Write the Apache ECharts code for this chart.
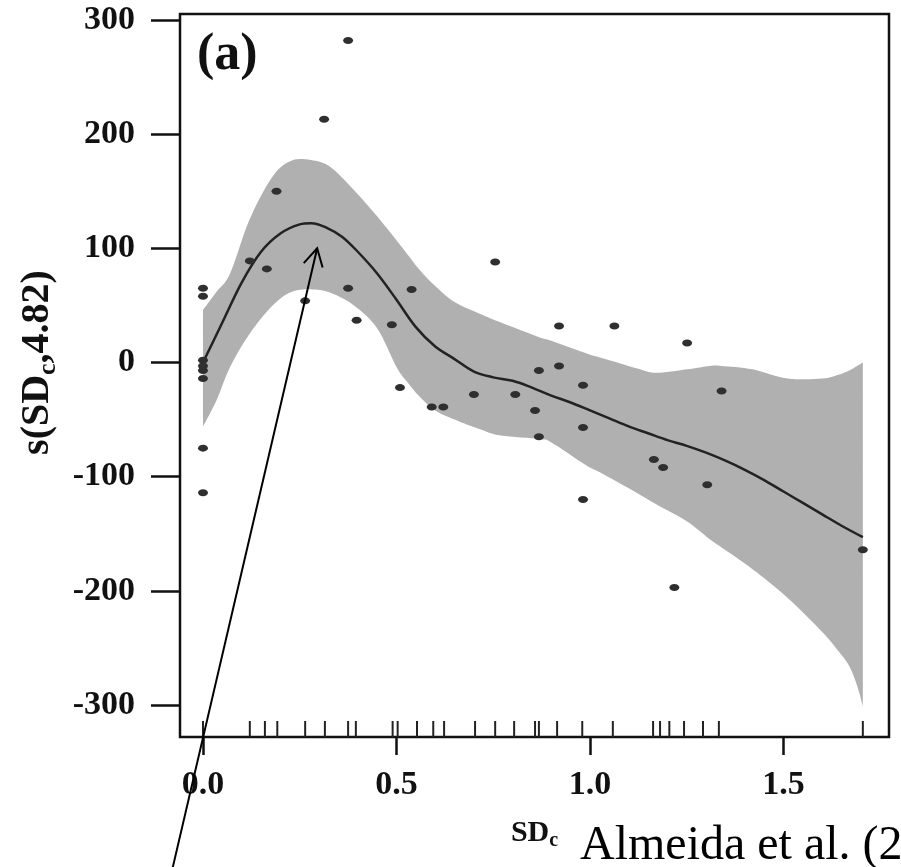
<!DOCTYPE html>
<html><head><meta charset="utf-8">
<script src="https://cdn.jsdelivr.net/npm/echarts@6/dist/echarts.min.js"></script>
<style>html,body{margin:0;padding:0;background:#fff}#c{width:901px;height:867px}</style>
</head><body><div id="c"></div>
<script>
// ---- data ----
const xTicks = [0, 0.5, 1.0, 1.5];
const yTicks = [-300, -200, -100, 0, 100, 200, 300];

const pointX = [0, 0, 0, 0, 0, 0, 0, 0,
  0.121, 0.165, 0.190, 0.264, 0.313, 0.375, 0.375, 0.397, 0.488, 0.509, 0.539, 0.591, 0.621, 0.700,
  0.755, 0.807, 0.858, 0.868, 0.868, 0.920, 0.920, 0.982, 0.982, 0.982, 1.063, 1.165, 1.189, 1.218,
  1.251, 1.303, 1.340, 1.705];
const pointY = [65, 58, 2, -3, -7, -14, -75, -114,
  89, 82, 150, 54, 213, 282, 65, 37, 33, -22, 64, -39, -39, -28,
  88, -28, -42, -7, -65, 32, -3, -20, -57, -120, 32, -85, -92, -197,
  17, -107, -25, -164];

const rugX = [0, 0.121, 0.160, 0.192, 0.264, 0.315, 0.375, 0.395, 0.490, 0.503, 0.553, 0.595, 0.623,
  0.703, 0.755, 0.804, 0.858, 0.868, 0.915, 0.980, 1.059, 1.163, 1.181, 1.205, 1.243, 1.292, 1.333, 1.705];

const fitX = [0, 0.05, 0.1, 0.15, 0.2, 0.25, 0.28, 0.32, 0.36, 0.4, 0.45, 0.5, 0.55, 0.6, 0.65, 0.7,
  0.75, 0.8, 0.85, 0.9, 0.95, 1.0, 1.05, 1.1, 1.15, 1.2, 1.25, 1.3, 1.35, 1.4, 1.45, 1.5, 1.55, 1.6, 1.65, 1.705];
const fitY = [0, 35, 70, 97, 113, 121, 122, 118, 110, 97, 78, 55, 31, 14, 3, -8,
  -13, -16, -22, -29, -35, -42, -49, -56, -62, -68, -73, -79, -86, -94, -103, -113, -123, -133, -143, -153];

const bandX = [0, 0.035, 0.07, 0.12, 0.18, 0.23, 0.285, 0.33, 0.39, 0.45, 0.5, 0.53, 0.56, 0.6, 0.65, 0.72,
  0.77, 0.87, 0.9, 0.99, 1.03, 1.12, 1.17, 1.25, 1.31, 1.34, 1.42, 1.51, 1.6, 1.64, 1.67, 1.69, 1.705];
const bandUpper = [46, 62, 78, 125, 163, 177, 177, 171, 151, 128, 107, 94, 81, 67, 53, 42,
  35, 22, 19, 8, 4, -5, -9, -6, -3, -3, -6, -14, -14, -11, -7, -3, 0];
const bandLower = [-56, -33, -4, 25, 50, 62, 64, 61, 50, 30, -4, -18, -30, -42, -50, -59,
  -64, -67, -70, -90, -97, -114, -124, -139, -155, -162, -181, -206, -236, -252, -266, -283, -301];

// annotation arrow (data space)
const arrowTip = [0.295, 100];
const arrowTail = [-0.078, -442];

const SERIF = "'Liberation Serif','Times New Roman',serif";

// Catmull-Rom resampling of already-projected pixel points (drawing smoothness only)
function smoothPts(pts, n) {
  const out = [];
  for (let i = 0; i < pts.length - 1; i++) {
    const p0 = pts[Math.max(i - 1, 0)], p1 = pts[i], p2 = pts[i + 1], p3 = pts[Math.min(i + 2, pts.length - 1)];
    for (let k = 0; k < n; k++) {
      const t = k / n, t2 = t * t, t3 = t2 * t;
      const f = j => 0.5 * ((2 * p1[j]) + (-p0[j] + p2[j]) * t + (2 * p0[j] - 5 * p1[j] + 4 * p2[j] - p3[j]) * t2 +
        (-p0[j] + 3 * p1[j] - 3 * p2[j] + p3[j]) * t3);
      out.push([f(0), f(1)]);
    }
  }
  out.push(pts[pts.length - 1]);
  return out;
}

const chart = echarts.init(document.getElementById('c'), null, {renderer: 'canvas'});

chart.setOption({
  animation: false,
  backgroundColor: '#fff',
  grid: {left: 180, right: 12, top: 14, bottom: 130, show: true, borderColor: '#111', borderWidth: 2.5,
         backgroundColor: 'transparent', outerBoundsMode: 'none'},
  xAxis: {
    type: 'value', min: -0.0594, max: 1.7726,
    axisLine: {show: false, onZero: false},
    splitLine: {show: false},
    axisTick: {show: true, customValues: xTicks, length: 18, lineStyle: {color: '#111', width: 2.5}},
    axisLabel: {customValues: xTicks, formatter: v => v.toFixed(1), fontFamily: SERIF, fontWeight: 'bold',
                fontSize: 34, color: '#111', margin: 31},
    name: '{b|SD}{s|c}', nameLocation: 'middle', nameGap: 78,
    nameTextStyle: {rich: {
      b: {fontFamily: SERIF, fontWeight: 'bold', fontSize: 30, color: '#111', lineHeight: 36},
      s: {fontFamily: SERIF, fontWeight: 'bold', fontSize: 20, color: '#111', lineHeight: 20, verticalAlign: 'bottom'}
    }}
  },
  yAxis: {
    type: 'value', min: -328.03, max: 305.26,
    axisLine: {show: false, onZero: false},
    splitLine: {show: false},
    axisTick: {show: true, customValues: yTicks, length: 29, lineStyle: {color: '#111', width: 2.5}},
    axisLabel: {customValues: yTicks, fontFamily: SERIF, fontWeight: 'bold', fontSize: 34, color: '#111', margin: 45},
    name: '{b|s(SD}{s|c}{b|,4.82)}', nameLocation: 'middle', nameGap: 110, nameRotate: 90,
    nameTextStyle: {padding: [0, 0, 0, 26], rich: {
      b: {fontFamily: SERIF, fontWeight: 'bold', fontSize: 40, color: '#111', lineHeight: 48},
      s: {fontFamily: SERIF, fontWeight: 'bold', fontSize: 26, color: '#111', lineHeight: 26, verticalAlign: 'bottom'}
    }}
  },
  series: [
    {
      type: 'custom', silent: true, z: 1,
      data: bandX.map((x, i) => [x, bandLower[i], bandUpper[i]]),
      encode: {x: 0, y: [1, 2]},
      renderItem: function (params, api) {
        if (params.dataIndex !== 0) return null;
        const up = bandX.map((x, i) => api.coord([x, bandUpper[i]]));
        const lo = bandX.map((x, i) => api.coord([x, bandLower[i]]));
        const pts = smoothPts(up, 8).concat(smoothPts(lo, 8).reverse());
        return {type: 'polygon', shape: {points: pts}, style: {fill: '#b0b0b0', stroke: null}};
      }
    },
    {
      type: 'line', z: 3, silent: true, showSymbol: false, smooth: 0.35,
      data: fitX.map((x, i) => [x, fitY[i]]),
      lineStyle: {color: '#222', width: 2.5}
    },
    {
      type: 'scatter', z: 4, silent: true, symbol: 'circle', symbolSize: [10, 7],
      data: pointX.map((x, i) => [x, pointY[i]]),
      itemStyle: {color: '#2f2f2f', opacity: 1}
    },
    {
      type: 'custom', z: 5, silent: true,
      data: rugX.map(x => [x, -328.03]),
      encode: {x: 0, y: 1},
      renderItem: function (params, api) {
        const p = api.coord([api.value(0), api.value(1)]);
        return {type: 'line', shape: {x1: p[0], y1: p[1], x2: p[0], y2: p[1] - 16},
                style: {stroke: '#222', lineWidth: 2}};
      }
    }
  ]
});

// annotations
const tip = chart.convertToPixel({gridIndex: 0}, arrowTip);
const tail = chart.convertToPixel({gridIndex: 0}, arrowTail);
const ang = Math.atan2(tail[1] - tip[1], tail[0] - tip[0]);
const L = 20, a = 29 * Math.PI / 180;
const h1 = [tip[0] + L * Math.cos(ang + a), tip[1] + L * Math.sin(ang + a)];
const h2 = [tip[0] + L * Math.cos(ang - a), tip[1] + L * Math.sin(ang - a)];

chart.setOption({
  graphic: [
    {type: 'text', left: 197, top: 30, z: 10,
     style: {text: '(a)', font: "bold 52px 'Liberation Serif','Times New Roman',serif", fill: '#111'}},
    {type: 'text', left: 580, top: 822, z: 10,
     style: {text: 'Almeida et al. (2012)', font: "48px 'Liberation Serif','Times New Roman',serif", fill: '#000'}},
    {type: 'line', z: 20, shape: {x1: tail[0], y1: tail[1], x2: tip[0], y2: tip[1]},
     style: {stroke: '#000', lineWidth: 2}},
    {type: 'polyline', z: 20, shape: {points: [h1, tip, h2]}, style: {stroke: '#000', lineWidth: 2, fill: null}}
  ]
});
</script>
</body></html>
